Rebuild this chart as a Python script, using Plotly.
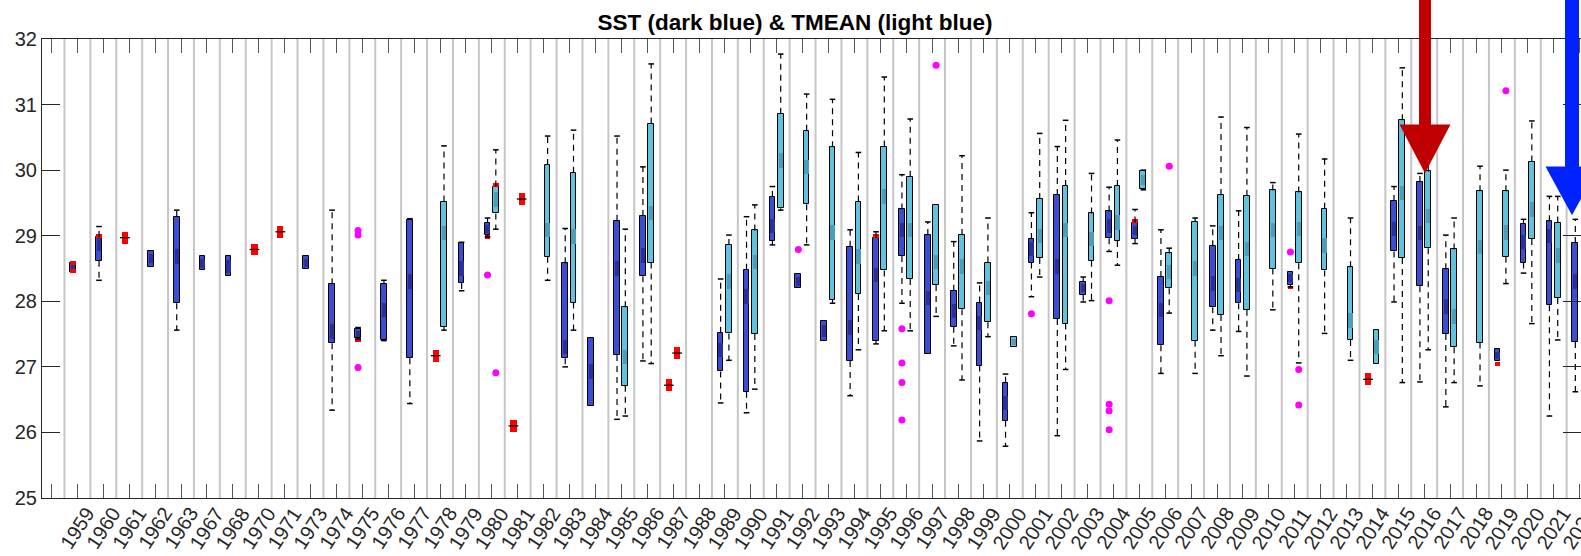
import plotly.graph_objects as go

years = [1959, 1960, 1961, 1962, 1963, 1967, 1968, 1970, 1971] + list(range(1973, 2023))

N = None
# SST (dark blue): q1, median, q3, lower whisker, upper whisker
sst_q1  = [28.45, 28.62, N, 28.53, 27.97, 28.47, 28.38, N, N, 28.49, 27.36, 27.44, 27.41, 27.13, N, 28.28, 29.01, N, N, 27.13,
           26.40, 27.18, 28.38, N, N, 26.93, 26.62, 28.92, 28.20, 27.39, 27.09, 27.40, 28.69, 27.20, 27.61, 27.02, 26.18, 28.59, 27.73, 28.10,
           28.96, 28.95, 27.33, N, 27.91, 27.97, N, 28.25, N, N, N, 28.76, 28.23, 27.50, N, 27.09, 28.59, 27.94, 27.38]
sst_med = [28.51, 28.88, N, 28.65, 28.68, 28.58, 28.53, N, N, 28.59, 27.54, 27.50, 27.87, 28.30, N, 28.50, 29.10, N, N, 27.30,
           26.93, 28.50, 28.70, N, N, 27.26, 28.07, 29.15, 28.30, 27.55, 27.60, 28.40, 29.09, 28.05, 27.85, 27.67, 26.45, 28.80, 28.53, 28.20,
           29.15, 29.08, 27.87, N, 28.27, 28.25, N, 28.35, N, N, N, 29.10, 29.04, 27.92, N, 27.18, 28.90, 29.00, 28.30]
sst_q3  = [28.58, 28.98, N, 28.76, 29.29, 28.69, 28.69, N, N, 28.69, 28.26, 27.58, 28.27, 29.24, N, 28.89, 29.20, N, N, 28.58,
           27.44, 29.23, 29.30, N, N, 27.52, 28.48, 29.59, 28.42, 27.70, 28.83, 28.96, 29.40, 29.01, 28.16, 27.98, 26.76, 28.95, 29.62, 28.30,
           29.37, 29.20, 28.37, N, 28.84, 28.63, N, 28.45, N, N, N, 29.53, 29.82, 28.49, N, 27.27, 29.18, 29.22, 28.89]
sst_lo  = [28.45, 28.32, N, 28.53, 27.56, 28.47, 28.38, N, N, 28.49, 26.34, 27.42, 27.40, 26.44, N, 28.16, 28.98, N, N, 27.00,
           26.40, 26.20, 27.09, N, N, 26.45, 26.30, 28.86, 28.20, 27.39, 26.56, 27.35, 27.97, 27.20, 27.32, 25.87, 25.79, 28.07, 25.95, 27.99,
           28.76, 28.88, 26.90, N, 27.56, 27.54, N, 28.22, N, N, N, 27.99, 26.77, 26.39, N, 27.09, 28.43, 26.25, 26.62]
sst_hi  = [28.58, 29.14, N, 28.76, 29.39, 28.69, 28.69, N, N, 28.69, 29.39, 27.60, 28.32, 29.26, N, 28.90, 29.27, N, N, 29.11,
           27.44, 30.52, 30.05, N, N, 28.34, 29.29, 29.75, 28.42, 27.70, 29.09, 29.06, 29.93, 29.21, 28.91, 28.28, 26.89, 29.35, 30.36, 28.37,
           29.74, 29.40, 29.09, N, 29.15, 29.38, N, 28.45, N, N, N, 29.75, 29.95, 29.01, N, 27.27, 29.25, 29.60, 29.25]

# TMEAN (light blue)
tm_q1  = [N] * 14 + [27.61, N, 29.34, N, 28.68, 27.98,
          N, 26.71, 28.59, N, N, 27.51, 27.50, 29.42, 29.48, 28.02, 28.11, 28.47, 28.34, 28.25, 27.88, 27.68, 27.31, 28.66, 27.66, 28.62,
          28.92, 29.72, 28.20, 27.40, 27.79, 27.87, 28.50, 28.58, 28.47, 27.41, 27.05, 28.66, 28.81, 27.30, 27.37, 28.68, 28.95, 28.05, N]
tm_med = [N] * 14 + [29.04, N, 29.55, N, 29.09, 28.99,
          N, 27.15, 29.35, N, N, 28.30, 28.60, 30.15, 30.05, 29.05, 28.68, 29.60, 29.09, 28.60, 28.53, 28.20, 27.38, 29.00, 29.09, 28.95,
          29.20, 29.85, 28.45, 28.50, 29.04, 28.80, 29.09, 29.10, 28.85, 27.71, 27.30, 29.65, 29.30, 27.77, 28.83, 29.05, 29.40, 28.70, N]
tm_q3  = [N] * 14 + [29.52, N, 29.75, N, 30.08, 29.96,
          N, 27.91, 30.71, N, N, 28.86, 29.08, 30.86, 30.60, 30.35, 29.52, 30.36, 29.90, 29.47, 29.01, 28.59, 27.46, 29.56, 29.76, 29.34,
          29.76, 29.99, 28.73, 29.21, 29.62, 29.61, 29.69, 29.66, 29.41, 28.52, 27.56, 30.76, 29.98, 28.79, 29.68, 29.68, 30.13, 29.20, N]
tm_lo  = [N] * 14 + [27.56, N, 29.10, N, 28.32, 27.56,
          N, 26.25, 27.05, N, N, 27.10, 26.66, 29.39, 28.86, 27.97, 27.26, 27.55, 27.55, 27.77, 26.80, 27.46, 27.31, 28.37, 26.96, 28.01,
          28.55, 29.70, 27.82, 26.90, 27.17, 26.86, 27.87, 27.06, 27.51, 27.10, 27.05, 26.76, 27.26, 26.76, 26.71, 28.27, 27.66, 27.41, N]
tm_hi  = [N] * 14 + [30.37, N, 30.31, N, 30.52, 30.61,
          N, 29.10, 31.62, N, N, 29.01, 29.47, 31.77, 31.16, 31.08, 30.27, 31.42, 30.78, 29.47, 30.22, 29.27, 27.46, 30.56, 30.76, 29.95,
          30.46, 30.00, 28.81, 29.27, 30.81, 30.65, 29.81, 30.55, 30.17, 29.27, 27.56, 31.56, 30.96, 29.27, 30.06, 30.00, 30.75, 29.60, N]

# Outliers (magenta): year, series ("S"=SST, "T"=TMEAN), value
out_year   = [1975, 1975, 1975, 1980, 1980, 1992, 1996, 1996, 1996, 1996, 1997, 2001, 2004, 2004, 2004, 2004, 2006, 2011, 2011, 2011, 2019]
out_series = ["S", "S", "S", "S", "T", "S", "S", "S", "S", "S", "T", "S", "S", "S", "S", "S", "T", "S", "T", "T", "T"]
out_value  = [29.08, 29.01, 26.99, 28.40, 26.91, 28.79, 27.58, 27.06, 26.76, 26.19, 31.60, 27.81, 28.01, 26.43, 26.33, 26.04, 30.06, 28.75, 26.96, 26.42, 31.21]

# Single-value groups (red marks)
red_year   = [1961, 1970, 1971, 1978, 1981, 1981, 1987, 1987, 2014]
red_series = ["S", "S", "S", "S", "T", "S", "S", "T", "S"]
red_value  = [28.97, 28.79, 29.06, 27.17, 29.56, 26.10, 26.72, 27.21, 26.81]

# small red edge marks on boxes
edge_year   = [1959, 1959, 1960, 1975, 1980, 1980, 1995, 2005, 2011, 2019]
edge_series = ["S", "S", "S", "S", "S", "T", "S", "S", "S", "S"]
edge_value  = [28.46, 28.58, 29.00, 27.41, 28.98, 29.77, 28.99, 29.23, 28.21, 27.05]

# ---------------------------------------------------------------------------
slot = {y: i + 1 for i, y in enumerate(years)}
OFF = {"S": -0.165, "T": 0.155}
BW = 0.22
DARK, DARK_MED = "#3b4dd2", "#2a2f9e"
LIGHT, LIGHT_MED = "#5ec3df", "#4a9dbb"

fig = go.Figure()


def add_series(q1, med, q3, lo, hi, key, fill, medfill):
    xs, bases, hs, mx, mb, mh = [], [], [], [], [], []
    wx, wy, cx, cy = [], [], [], []
    for i, yr in enumerate(years):
        if q1[i] is None:
            continue
        x = slot[yr] + OFF[key]
        xs.append(x); bases.append(q1[i]); hs.append(max(q3[i] - q1[i], 0.02))
        band = min(0.22, (q3[i] - q1[i]) * 0.6)
        mx.append(x); mb.append(med[i] - band / 2); mh.append(band)
        if hi[i] > q3[i]:
            wx += [x, x, None]; wy += [q3[i], hi[i], None]
            cx.append(x); cy.append(hi[i])
        if lo[i] < q1[i]:
            wx += [x, x, None]; wy += [q1[i], lo[i], None]
            cx.append(x); cy.append(lo[i])
    fig.add_trace(go.Scatter(x=wx, y=wy, mode="lines", line=dict(color="black", width=1.2, dash="6px,5px"),
                             hoverinfo="skip", showlegend=False))
    fig.add_trace(go.Scatter(x=cx, y=cy, mode="markers", marker=dict(symbol="line-ew", size=4,
                             line=dict(color="black", width=1.5)), hoverinfo="skip", showlegend=False))
    fig.add_trace(go.Bar(x=xs, y=hs, base=bases, width=BW, marker=dict(color=fill, line=dict(color="black", width=1)),
                         showlegend=False))
    fig.add_trace(go.Bar(x=mx, y=mh, base=mb, width=BW * 0.75, marker=dict(color=medfill, line=dict(width=0)),
                         showlegend=False))


add_series(sst_q1, sst_med, sst_q3, sst_lo, sst_hi, "S", DARK, DARK_MED)
add_series(tm_q1, tm_med, tm_q3, tm_lo, tm_hi, "T", LIGHT, LIGHT_MED)

# red single-value marks
rx = [slot[y] + OFF[s] for y, s in zip(red_year, red_series)]
fig.add_trace(go.Bar(x=rx, y=[0.18] * len(rx), base=[v - 0.09 for v in red_value], width=0.24,
                     marker=dict(color="#ff0000", line=dict(width=0)), showlegend=False))
fig.add_trace(go.Scatter(x=rx, y=red_value, mode="markers", marker=dict(symbol="line-ew", size=7,
                         line=dict(color="black", width=1.3)), showlegend=False, hoverinfo="skip"))
ex = [slot[y] + OFF[s] for y, s in zip(edge_year, edge_series)]
fig.add_trace(go.Bar(x=ex, y=[0.06] * len(ex), base=[v - 0.03 for v in edge_value], width=0.22,
                     marker=dict(color="#ff0000", line=dict(width=0)), showlegend=False))

# outliers
ox = [slot[y] + OFF[s] for y, s in zip(out_year, out_series)]
fig.add_trace(go.Scatter(x=ox, y=out_value, mode="markers", marker=dict(color="#ff00ff", size=7, line=dict(width=0)),
                         showlegend=False))

L, T, W, H = 42, 39, 1581, 556
BOT = 498
PW, PH = W - L, BOT - T
XR = [-0.367, 59.054]

shapes = []
for k in range(0, 60):
    shapes.append(dict(type="line", xref="x", yref="paper", x0=k + 0.5, x1=k + 0.5, y0=0, y1=1,
                       line=dict(color="#c6c6c6", width=2), layer="below"))


def px(v):
    return (v - L) / PW


def py(v):
    return (BOT - v) / PH


def arrow(xc, shaft_w, y_top, y_head, y_tip, head_half, color):
    shapes.append(dict(type="rect", xref="paper", yref="paper", x0=px(xc - shaft_w / 2), x1=px(xc + shaft_w / 2),
                       y0=py(y_head + 3), y1=py(y_top), fillcolor=color, line=dict(width=0), layer="above"))
    path = "M {} {} L {} {} L {} {} Z".format(px(xc - head_half), py(y_head), px(xc + head_half), py(y_head),
                                              px(xc), py(y_tip))
    shapes.append(dict(type="path", xref="paper", yref="paper", path=path, fillcolor=color,
                       line=dict(color=color, width=3), layer="above"))


arrow(1425, 12, -5, 126, 170, 23, "#c00000")
arrow(1572, 14, -5, 168, 212, 24, "#0022ff")

FONT = "Liberation Sans, Arial, Helvetica, sans-serif"

# rotated year labels, centred under each tick
annotations = [dict(x=slot[y], y=py(528), xref="x", yref="paper", text=str(y), textangle=-57, showarrow=False,
                    xanchor="center", yanchor="middle", borderpad=0,
                    font=dict(family=FONT, size=20, color="#262626"))
               for y in years]

fig.update_layout(
    width=W, height=H, autosize=False,
    margin=dict(l=L, r=0, t=T, b=H - BOT, pad=0),
    paper_bgcolor="white", plot_bgcolor="white",
    barmode="overlay", bargap=0,
    shapes=shapes, annotations=annotations,
    title=dict(text="<b>SST (dark blue) & TMEAN (light blue)</b>", x=795 / W, xanchor="center",
               xref="container", y=1 - 22 / H, yref="container", yanchor="middle",
               font=dict(family=FONT, size=22.5, color="black")),
    xaxis=dict(range=XR, tickvals=list(range(60)), ticks="inside", ticklen=14, tickcolor="#555555", tickwidth=1,
               showticklabels=False, showline=True, linecolor="#262626", linewidth=1, mirror="ticks",
               showgrid=False, zeroline=False),
    yaxis=dict(range=[25, 32], tickvals=list(range(25, 33)), ticks="inside", ticklen=18, tickcolor="#262626",
               showline=True, linecolor="#262626", linewidth=1, mirror="ticks", showgrid=False, zeroline=False,
               tickfont=dict(family=FONT, size=20, color="#262626")),
)

fig.write_html("out.html")
